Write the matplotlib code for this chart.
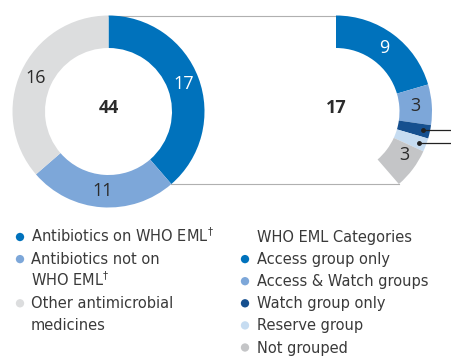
import numpy as np
import matplotlib
matplotlib.use("Agg")
import matplotlib.pyplot as plt

plt.rcParams['font.family'] = ['DejaVu Sans']
plt.rcParams['mathtext.fontset'] = 'dejavusans'

# left donut: all antimicrobials
left_labels = ['Antibiotics on WHO EML$^{\\dagger}$', 'Antibiotics not on\nWHO EML$^{\\dagger}$',
               'Other antimicrobial\nmedicines']
left_values = [17, 11, 16]
left_colors = ['#0072BC', '#7DA7D9', '#DCDDDE']

# right half-donut: WHO EML categories of the 17 on the list
right_title = 'WHO EML Categories'
right_labels = ['Access group only', 'Access & Watch groups', 'Watch group only',
                'Reserve group', 'Not grouped']
right_values = [9, 3, 1, 1, 3]
right_colors = ['#0072BC', '#7DA7D9', '#16508F', '#C6DCF1', '#C4C5C7']

W, H = 452, 356
fig = plt.figure(figsize=(W / 100, H / 100), dpi=100)
ax = fig.add_axes([0, 0, 1, 1])

total = sum(left_values)
R, width = 96, 32.5
cl = (108.5, H - 111.5)
cr = (336, H - 111.5)
deg = 360.0 / total


def ang(units):
    return np.radians(90 - units * deg)


def pos(c, units, r):
    a = ang(units)
    return c[0] + r * np.cos(a), c[1] + r * np.sin(a)


ax.pie(left_values, colors=left_colors, startangle=90, counterclock=False,
       center=cl, radius=R, wedgeprops=dict(width=width, edgecolor='none'))
ax.pie([v / total for v in right_values], colors=right_colors, normalize=False,
       startangle=90, counterclock=False, center=cr, radius=R,
       wedgeprops=dict(width=width, edgecolor='none'))

# connector lines between the two rings
x0, y0 = pos(cl, 0, R)
x1, y1 = pos(cl, left_values[0], R)
ax.plot([x0, cr[0]], [y0, y0], color='#B0B0B0', lw=0.8, zorder=0)
ax.plot([x1, x1 + (cr[0] - cl[0])], [y1, y1], color='#B0B0B0', lw=0.8, zorder=0)

# value labels
num_font = ['Open Sans', 'DejaVu Sans']
txt = dict(fontsize=13, ha='center', va='center', family=num_font)
acc = 0
for v, c in zip(left_values, ['white', '#2b2b2b', '#2b2b2b']):
    x, y = pos(cl, acc + v / 2, R - width / 2)
    ax.text(x, y, str(v), color=c, **txt)
    acc += v
ax.text(cl[0], cl[1] + 3, str(total), fontweight='bold', color='#2b2b2b', **txt)
ax.text(cr[0], cr[1] + 3, str(sum(right_values)), fontweight='bold', color='#2b2b2b', **txt)

acc = 0
for i, v in enumerate(right_values):
    mid = acc + v / 2
    if v >= 3:
        x, y = pos(cr, mid, R - width / 2)
        if i == 4:
            x, y = x + 5, y + 4
        ax.text(x, y, str(v), color='white' if i == 0 else '#2b2b2b', **txt)
    else:
        x, y = pos(cr, mid, R - 7)
        ax.plot([x, W], [y, y], color='#222222', lw=0.9)
        ax.plot(x, y, 'o', color='#222222', ms=2.5)
    acc += v

# legends, one text per line (baseline placed) so the dagger keeps the spacing
lg = dict(fontsize=10.5, color='#3a3a3a', va='baseline')
step = 22.1
top = H - 237
y = top
for lab, col in zip(left_labels, left_colors):
    ax.scatter(20, y, s=36, color=col, edgecolors='none')
    for line in lab.split('\n'):
        ax.text(31, y - 5, line, **lg)
        y -= step

ax.text(257, top - 5, right_title, **lg)
for i, (lab, col) in enumerate(zip(right_labels, right_colors)):
    y = top - (i + 1) * step
    ax.scatter(245, y, s=36, color=col, edgecolors='none')
    ax.text(257, y - 5, lab, **lg)

ax.set_xlim(0, W)
ax.set_ylim(0, H)
ax.set_aspect('equal')
ax.axis('off')
fig.savefig('out.png', dpi=100)
